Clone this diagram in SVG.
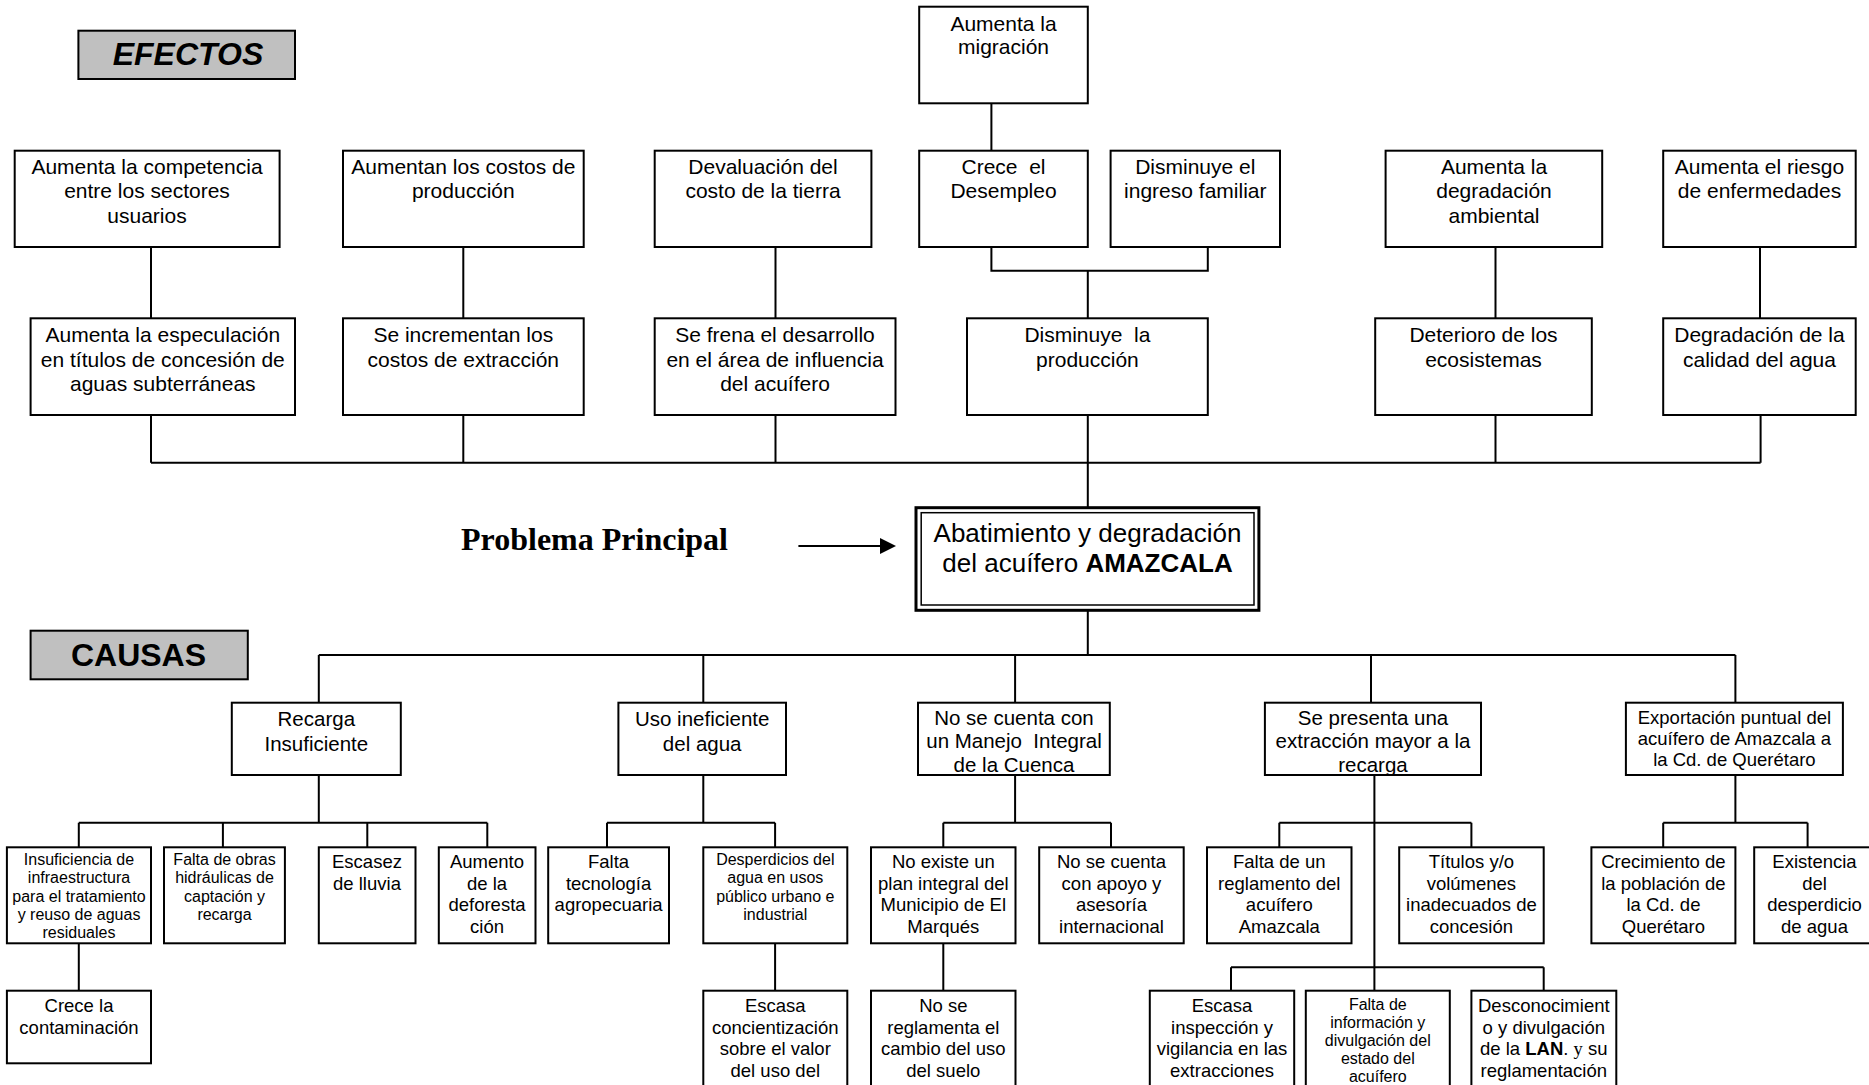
<svg xmlns="http://www.w3.org/2000/svg" width="1869" height="1085" viewBox="0 0 1869 1085">
<style>
.b{fill:#fff;stroke:#000;stroke-width:2}
.g{fill:#c0c0c0;stroke:#000;stroke-width:2}
.c{fill:none;stroke:#000;stroke-width:2}
text{font-family:"Liberation Sans",Arial,sans-serif;text-anchor:middle;fill:#000}
.f21{font-size:21px}.f20{font-size:20.5px}.f18{font-size:18.5px}.f16{font-size:16px}
</style>
<defs>
<marker id="ah" viewBox="0 0 10 10" refX="0" refY="5" markerWidth="16" markerHeight="16" markerUnits="userSpaceOnUse" orient="auto"><path d="M0 0L10 5L0 10Z" fill="#000"/></marker>
<clipPath id="cpNo"><rect x="918" y="702.7" width="191.8" height="71.3"/></clipPath>
<clipPath id="cpSe"><rect x="1264.9" y="702.7" width="216.1" height="71.3"/></clipPath>
<clipPath id="cpEx"><rect x="1625.9" y="702.7" width="217" height="71.3"/></clipPath>
</defs>
<rect width="1869" height="1085" fill="#fff"/>

<g id="connectors">
<path class="c" d="M151 247V318.3M151 415V462.7M151 462.7H1760.6M463.3 247V318.3M463.3 415V462.7M775.5 247V318.3M775.5 415V462.7M991.4 103.3V150.7M991.4 247V270.7H1207.8V247M1087.8 270.7V318.3M1087.8 415V507.7M1495.5 247V318.3M1495.5 415V462.7M1760 247V318.3M1760.6 415V462.7M1087.8 610.3V655M318.8 655H1735.4M318.8 655V702.7M703.3 655V702.7M1015.1 655V702.7M1371 655V702.7M1735.4 655V702.7M318.8 775V822.7M78.8 822.7H487.3M78.8 822.7V847.3M222.9 822.7V847.3M367.3 822.7V847.3M487.3 822.7V847.3M78.8 943.3V990.7M703.3 775V822.7M607 822.7H775.1M607 822.7V847.3M775.1 822.7V847.3M775.1 943.3V990.7M1015.1 775V822.7M943.3 822.7H1111M943.3 822.7V847.3M1111 822.7V847.3M943.3 943.3V990.7M1374.4 775V990.7M1279.3 822.7H1471.4M1279.3 822.7V847.3M1471.4 822.7V847.3M1231 967.3H1543.7M1231 967.3V990.7M1543.7 967.3V990.7M1735.4 775V822.7M1663.2 822.7H1807.6M1663.2 822.7V847.3M1807.6 822.7V847.3"/>
<path class="c" d="M798.4 546H880" marker-end="url(#ah)"/>
</g>

<g id="efectos-label"><rect class="g" x="78.4" y="30.7" width="216.6" height="48.3"/><text x="188" y="65" style="font-size:32px;font-weight:bold;font-style:italic">EFECTOS</text></g>
<g id="causas-label"><rect class="g" x="30.6" y="630.7" width="217.2" height="48.6"/><text x="138.5" y="665.5" style="font-size:32px;font-weight:bold">CAUSAS</text></g>
<g id="problema-label"><text x="594.5" y="550" style="font-family:'Liberation Serif','Times New Roman',serif;font-size:32px;font-weight:bold">Problema Principal</text></g>

<g id="e-migracion"><rect class="b" x="919.2" y="6.7" width="168.6" height="96.6"/><text class="f21"><tspan x="1003.5" y="30.7">Aumenta la</tspan><tspan x="1003.5" y="54">migración</tspan></text></g>
<g id="e-competencia"><rect class="b" x="14.7" y="150.7" width="264.9" height="96.3"/><text class="f21"><tspan x="147" y="174">Aumenta la competencia</tspan><tspan x="147" y="198.3">entre los sectores</tspan><tspan x="147" y="222.7">usuarios</tspan></text></g>
<g id="e-costos-prod"><rect class="b" x="343" y="150.7" width="240.7" height="96.3"/><text class="f21"><tspan x="463.3" y="174">Aumentan los costos de</tspan><tspan x="463.3" y="198.3">producción</tspan></text></g>
<g id="e-devaluacion"><rect class="b" x="654.7" y="150.7" width="216.7" height="96.3"/><text class="f21"><tspan x="763" y="174">Devaluación del</tspan><tspan x="763" y="198.3">costo de la tierra</tspan></text></g>
<g id="e-desempleo"><rect class="b" x="919.2" y="150.7" width="168.6" height="96.3"/><text class="f21" xml:space="preserve"><tspan x="1003.5" y="174">Crece  el</tspan><tspan x="1003.5" y="198.3">Desempleo</tspan></text></g>
<g id="e-ingreso"><rect class="b" x="1110.6" y="150.7" width="169.4" height="96.3"/><text class="f21"><tspan x="1195.3" y="174">Disminuye el</tspan><tspan x="1195.3" y="198.3">ingreso familiar</tspan></text></g>
<g id="e-degradacion-amb"><rect class="b" x="1385.6" y="150.7" width="216.6" height="96.3"/><text class="f21"><tspan x="1494" y="174">Aumenta la</tspan><tspan x="1494" y="198.3">degradación</tspan><tspan x="1494" y="222.7">ambiental</tspan></text></g>
<g id="e-riesgo"><rect class="b" x="1663.2" y="150.7" width="192.5" height="96.3"/><text class="f21"><tspan x="1759.5" y="174">Aumenta el riesgo</tspan><tspan x="1759.5" y="198.3">de enfermedades</tspan></text></g>

<g id="e-especulacion"><rect class="b" x="30.6" y="318.3" width="264.4" height="96.7"/><text class="f21"><tspan x="162.8" y="342.3">Aumenta la especulación</tspan><tspan x="162.8" y="366.7">en títulos de concesión de</tspan><tspan x="162.8" y="390.7">aguas subterráneas</tspan></text></g>
<g id="e-costos-ext"><rect class="b" x="343" y="318.3" width="240.7" height="96.7"/><text class="f21"><tspan x="463.3" y="342.3">Se incrementan los</tspan><tspan x="463.3" y="366.7">costos de extracción</tspan></text></g>
<g id="e-desarrollo"><rect class="b" x="654.7" y="318.3" width="240.8" height="96.7"/><text class="f21"><tspan x="775" y="342.3">Se frena el desarrollo</tspan><tspan x="775" y="366.7">en el área de influencia</tspan><tspan x="775" y="390.7">del acuífero</tspan></text></g>
<g id="e-produccion"><rect class="b" x="967" y="318.3" width="240.8" height="96.7"/><text class="f21" xml:space="preserve"><tspan x="1087.4" y="342.3">Disminuye  la</tspan><tspan x="1087.4" y="366.7">producción</tspan></text></g>
<g id="e-ecosistemas"><rect class="b" x="1375.2" y="318.3" width="216.6" height="96.7"/><text class="f21"><tspan x="1483.5" y="342.3">Deterioro de los</tspan><tspan x="1483.5" y="366.7">ecosistemas</tspan></text></g>
<g id="e-calidad"><rect class="b" x="1663.2" y="318.3" width="192.5" height="96.7"/><text class="f21"><tspan x="1759.5" y="342.3">Degradación de la</tspan><tspan x="1759.5" y="366.7">calidad del agua</tspan></text></g>

<g id="problema"><rect fill="#fff" stroke="#000" stroke-width="3" x="916" y="507.7" width="342.9" height="102.6"/><rect fill="none" stroke="#000" stroke-width="1.5" x="921.2" y="512.7" width="332.8" height="92.3"/><text style="font-size:26px"><tspan x="1087.5" y="541.7">Abatimiento y degradación</tspan><tspan x="1087.5" y="571.7">del acuífero <tspan style="font-weight:bold">AMAZCALA</tspan></tspan></text></g>

<g id="c-recarga"><rect class="b" x="231.8" y="702.7" width="169" height="72.3"/><text class="f20"><tspan x="316.3" y="726">Recarga</tspan><tspan x="316.3" y="750.5">Insuficiente</tspan></text></g>
<g id="c-uso"><rect class="b" x="618.4" y="702.7" width="167.6" height="72.3"/><text class="f20"><tspan x="702.2" y="726">Uso ineficiente</tspan><tspan x="702.2" y="750.5">del agua</tspan></text></g>
<g id="c-manejo"><rect class="b" x="918" y="702.7" width="191.8" height="72.3"/><text class="f20" clip-path="url(#cpNo)" xml:space="preserve"><tspan x="1014" y="725">No se cuenta con</tspan><tspan x="1014" y="748.3">un Manejo  Integral</tspan><tspan x="1014" y="771.5">de la Cuenca</tspan></text></g>
<g id="c-extraccion"><rect class="b" x="1264.9" y="702.7" width="216.1" height="72.3"/><text class="f20" clip-path="url(#cpSe)"><tspan x="1373" y="725">Se presenta una</tspan><tspan x="1373" y="748.3">extracción mayor a la</tspan><tspan x="1373" y="771.5">recarga</tspan></text></g>
<g id="c-exportacion"><rect class="b" x="1625.9" y="702.7" width="217" height="72.3"/><text class="f18" clip-path="url(#cpEx)"><tspan x="1734.4" y="724">Exportación puntual del</tspan><tspan x="1734.4" y="745">acuífero de Amazcala a</tspan><tspan x="1734.4" y="766">la Cd. de Querétaro</tspan></text></g>

<g id="c-infraestructura"><rect class="b" x="6.9" y="847.3" width="144.1" height="96"/><text class="f16"><tspan x="79" y="865">Insuficiencia de</tspan><tspan x="79" y="883.3">infraestructura</tspan><tspan x="79" y="901.6">para el tratamiento</tspan><tspan x="79" y="919.9">y reuso de aguas</tspan><tspan x="79" y="938.2">residuales</tspan></text></g>
<g id="c-obras"><rect class="b" x="164" y="847.3" width="120.9" height="96"/><text class="f16"><tspan x="224.5" y="865">Falta de obras</tspan><tspan x="224.5" y="883.3">hidráulicas de</tspan><tspan x="224.5" y="901.6">captación y</tspan><tspan x="224.5" y="919.9">recarga</tspan></text></g>
<g id="c-lluvia"><rect class="b" x="318.8" y="847.3" width="96.7" height="96"/><text class="f18"><tspan x="367" y="868.3">Escasez</tspan><tspan x="367" y="889.8">de lluvia</tspan></text></g>
<g id="c-deforestacion"><rect class="b" x="438.8" y="847.3" width="96.7" height="96"/><text class="f18"><tspan x="487" y="868.3">Aumento</tspan><tspan x="487" y="889.8">de la</tspan><tspan x="487" y="911.3">deforesta</tspan><tspan x="487" y="932.8">ción</tspan></text></g>
<g id="c-tecnologia"><rect class="b" x="548.2" y="847.3" width="120.8" height="96"/><text class="f18"><tspan x="608.6" y="868.3">Falta</tspan><tspan x="608.6" y="889.8">tecnología</tspan><tspan x="608.6" y="911.3">agropecuaria</tspan></text></g>
<g id="c-desperdicios"><rect class="b" x="703.3" y="847.3" width="144" height="96"/><text class="f16"><tspan x="775.3" y="865">Desperdicios del</tspan><tspan x="775.3" y="883.3">agua en usos</tspan><tspan x="775.3" y="901.6">público urbano e</tspan><tspan x="775.3" y="919.9">industrial</tspan></text></g>
<g id="c-plan"><rect class="b" x="871" y="847.3" width="144.5" height="96"/><text class="f18"><tspan x="943.3" y="868.3">No existe un</tspan><tspan x="943.3" y="889.8">plan integral del</tspan><tspan x="943.3" y="911.3">Municipio de El</tspan><tspan x="943.3" y="932.8">Marqués</tspan></text></g>
<g id="c-apoyo"><rect class="b" x="1039.2" y="847.3" width="144.5" height="96"/><text class="f18"><tspan x="1111.5" y="868.3">No se cuenta</tspan><tspan x="1111.5" y="889.8">con apoyo y</tspan><tspan x="1111.5" y="911.3">asesoría</tspan><tspan x="1111.5" y="932.8">internacional</tspan></text></g>
<g id="c-reglamento"><rect class="b" x="1207" y="847.3" width="144.5" height="96"/><text class="f18"><tspan x="1279.3" y="868.3">Falta de un</tspan><tspan x="1279.3" y="889.8">reglamento del</tspan><tspan x="1279.3" y="911.3">acuífero</tspan><tspan x="1279.3" y="932.8">Amazcala</tspan></text></g>
<g id="c-titulos"><rect class="b" x="1399.2" y="847.3" width="144.5" height="96"/><text class="f18"><tspan x="1471.4" y="868.3">Títulos y/o</tspan><tspan x="1471.4" y="889.8">volúmenes</tspan><tspan x="1471.4" y="911.3">inadecuados de</tspan><tspan x="1471.4" y="932.8">concesión</tspan></text></g>
<g id="c-poblacion"><rect class="b" x="1591.4" y="847.3" width="144" height="96"/><text class="f18"><tspan x="1663.4" y="868.3">Crecimiento de</tspan><tspan x="1663.4" y="889.8">la población de</tspan><tspan x="1663.4" y="911.3">la Cd. de</tspan><tspan x="1663.4" y="932.8">Querétaro</tspan></text></g>
<g id="c-desperdicio-agua"><rect class="b" x="1754.2" y="847.3" width="121" height="96"/><text class="f18"><tspan x="1814.5" y="868.3">Existencia</tspan><tspan x="1814.5" y="889.8">del</tspan><tspan x="1814.5" y="911.3">desperdicio</tspan><tspan x="1814.5" y="932.8">de agua</tspan></text></g>

<g id="c-contaminacion"><rect class="b" x="6.9" y="990.7" width="144.1" height="72.6"/><text class="f18"><tspan x="79" y="1012.3">Crece la</tspan><tspan x="79" y="1033.8">contaminación</tspan></text></g>
<g id="c-concientizacion"><rect class="b" x="703.3" y="990.7" width="144" height="110"/><text class="f18"><tspan x="775.3" y="1012.3">Escasa</tspan><tspan x="775.3" y="1033.8">concientización</tspan><tspan x="775.3" y="1055.3">sobre el valor</tspan><tspan x="775.3" y="1076.8">del uso del</tspan></text></g>
<g id="c-suelo"><rect class="b" x="871" y="990.7" width="144.5" height="110"/><text class="f18"><tspan x="943.3" y="1012.3">No se</tspan><tspan x="943.3" y="1033.8">reglamenta el</tspan><tspan x="943.3" y="1055.3">cambio del uso</tspan><tspan x="943.3" y="1076.8">del suelo</tspan></text></g>
<g id="c-inspeccion"><rect class="b" x="1149.8" y="990.7" width="144.4" height="110"/><text class="f18"><tspan x="1222" y="1012.3">Escasa</tspan><tspan x="1222" y="1033.8">inspección y</tspan><tspan x="1222" y="1055.3">vigilancia en las</tspan><tspan x="1222" y="1076.8">extracciones</tspan></text></g>
<g id="c-informacion"><rect class="b" x="1305.8" y="990.7" width="144" height="110"/><text class="f16"><tspan x="1377.8" y="1010">Falta de</tspan><tspan x="1377.8" y="1028">información y</tspan><tspan x="1377.8" y="1046">divulgación del</tspan><tspan x="1377.8" y="1064">estado del</tspan><tspan x="1377.8" y="1082">acuífero</tspan></text></g>
<g id="c-lan"><rect class="b" x="1471.4" y="990.7" width="144.9" height="110"/><text class="f18"><tspan x="1543.8" y="1012.3">Desconocimient</tspan><tspan x="1543.8" y="1033.8">o y divulgación</tspan><tspan x="1543.8" y="1055.3">de la <tspan style="font-weight:bold">LAN</tspan>. <tspan style="font-family:'Liberation Serif','Times New Roman',serif">y</tspan> su</tspan><tspan x="1543.8" y="1076.8">reglamentación</tspan></text></g>
</svg>
